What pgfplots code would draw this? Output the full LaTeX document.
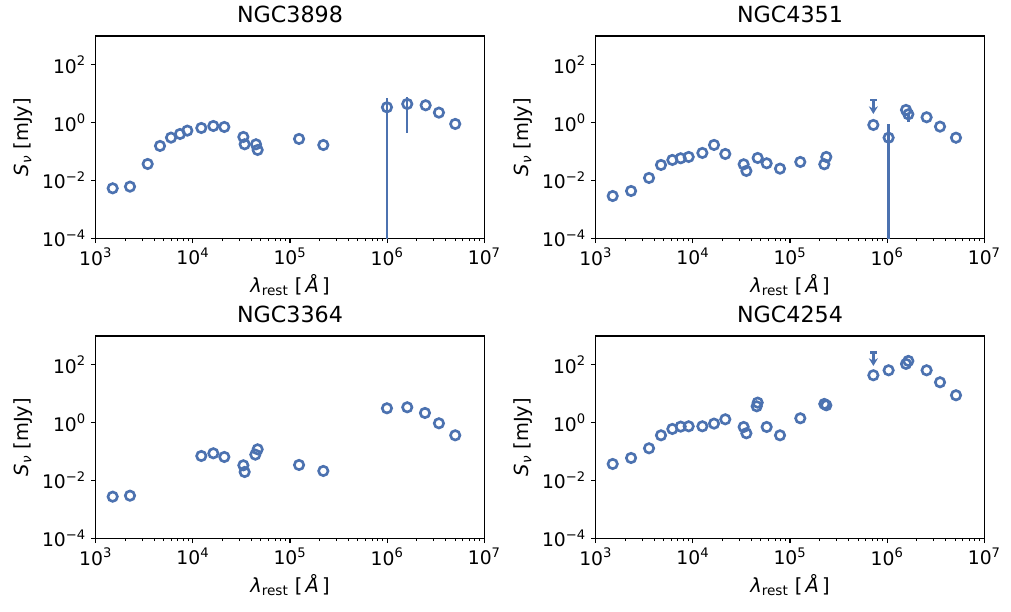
\documentclass[border=0pt]{standalone}
\usepackage{pgfplots}
\pgfplotsset{compat=1.18}
\usepackage{fontspec}
\setmainfont{DejaVu Sans}
\usetikzlibrary{arrows.meta}
\definecolor{sedblue}{HTML}{4C72B0}

\pgfplotsset{
  every axis/.append style={
    xmode=log, ymode=log, scale only axis,
    width=279.8pt, height=145.7pt,
    xmin=1e3, xmax=1e7, ymin=1e-4, ymax=1e3,
    xtick={1e3,1e4,1e5,1e6,1e7},
    xticklabels={10\textsuperscript{3},10\textsuperscript{4},10\textsuperscript{5},10\textsuperscript{6},10\textsuperscript{7}},
    ytick={1e-4,1e-2,1,1e2},
    yticklabels={10\textsuperscript{−4},10\textsuperscript{−2},10\textsuperscript{0},10\textsuperscript{2}},
    tick align=outside, tick pos=left,
    major tick length=3.5pt, minor tick length=2pt,
    tick style={black, line width=0.8pt},
    minor tick style={black, line width=0.6pt},
    axis line style={line width=0.8pt},
    tick label style={font=\fontsize{13.5}{15}\selectfont},
    label style={font=\fontsize{14}{16}\selectfont},
    title style={font=\fontsize{16}{19}\selectfont},
    xlabel={\textit{λ}\textsubscript{rest} [\,\textit{Å}\,]},
    ylabel={\textit{S}\textsubscript{\textit{ν}} [mJy]},
  },
}
\tikzset{
  sedpoints/.style={only marks, mark=o, mark size=3.4pt,
    mark options={line width=1.9pt, draw=sedblue, fill=white}},
  sedlimit/.style={sedblue, line width=1.7pt, -{Stealth[length=5.5pt,width=6.5pt]}},
  sedcap/.style={only marks, mark=-, mark size=2.4pt,
    mark options={line width=1.7pt, draw=sedblue}},
}

\begin{document}
\begin{tikzpicture}
\useasboundingbox (0,0) rectangle (727.92pt,-439.92pt);

% ---------------- NGC3898 ----------------
\begin{axis}[at={(68.90pt,-171.58pt)}, anchor=south west, title={NGC3898}]
\addplot[sedpoints] coordinates {
  (1496,0.00537) (2254,0.00614) (3428,0.0373) (4591,0.157) (5961,0.304)
  (7379,0.407) (8776,0.531) (12220,0.656) (16250,0.769) (21090,0.711)
  (33110,0.321) (34140,0.179) (44670,0.179) (46450,0.114)
  (123900,0.274) (220300,0.169)
  (2.49e6,4.0) (3.41e6,2.23) (5.02e6,0.904)
};
\addplot[sedpoints, error bars/.cd, y dir=both, y explicit, error mark=none,
  error bar style={line width=1.7pt, sedblue}] coordinates {
  (9.95e5,3.41) += (0,3.6) -= (0,3.409999)
  (1.61e6,4.45) += (0,3.5) -= (0,4.0)
};
\end{axis}

% ---------------- NGC4351 ----------------
\begin{axis}[at={(428.90pt,-171.58pt)}, anchor=south west, title={NGC4351}]
\addplot[sedpoints] coordinates {
  (1496,0.00291) (2312,0.00434) (3540,0.01225) (4700,0.0345) (6150,0.0514)
  (7495,0.0587) (9060,0.0653) (12530,0.0898) (16520,0.170) (21570,0.0828)
  (33340,0.0364) (35560,0.0214) (46450,0.0602) (57500,0.0394) (78900,0.0257)
  (127600,0.0438) (225400,0.0364) (236400,0.0653)
  (7.21e5,0.835) (1.563e6,2.76)
  (2.547e6,1.54) (3.50e6,0.731) (5.11e6,0.302)
};
\addplot[sedpoints, error bars/.cd, y dir=both, y explicit, error mark=none,
  error bar style={line width=1.7pt, sedblue}] coordinates {
  (1.035e6,0.302) += (0,0.60) -= (0,0.301999)
  (1.652e6,1.95) += (0,0.0) -= (0,0.9)
};
\addplot[sedlimit] coordinates {(7.21e5,6.12) (7.21e5,2.0)};
\addplot[sedcap] coordinates {(7.21e5,6.12)};
\end{axis}

% ---------------- NGC3364 ----------------
\begin{axis}[at={(68.90pt,-387.58pt)}, anchor=south west, title={NGC3364}]
\addplot[sedpoints] coordinates {
  (1496,0.00276) (2254,0.00299)
  (12220,0.0706) (16250,0.0873) (21090,0.0652)
  (33110,0.0336) (34140,0.0197) (43960,0.0785) (46450,0.120)
  (123900,0.0345) (220300,0.0214)
  (9.95e5,3.15) (1.61e6,3.41) (2.45e6,2.17) (3.41e6,0.953) (5.02e6,0.366)
};
\end{axis}

% ---------------- NGC4254 ----------------
\begin{axis}[at={(428.90pt,-387.58pt)}, anchor=south west, title={NGC4254}]
\addplot[sedpoints] coordinates {
  (1496,0.0373) (2312,0.0602) (3540,0.130) (4700,0.366) (6150,0.607)
  (7495,0.731) (9060,0.750) (12530,0.750) (16520,0.929) (21570,1.31)
  (33340,0.711) (35560,0.430) (45400,3.69) (46450,4.94) (57500,0.711)
  (78900,0.366) (127600,1.42) (225400,4.45) (236400,4.0)
  (7.21e5,43.7) (1.035e6,65.0) (1.563e6,108) (1.652e6,137)
  (2.547e6,65.0) (3.50e6,25.0) (5.11e6,8.89)
};
\addplot[sedlimit] coordinates {(7.21e5,266) (7.21e5,91.8)};
\addplot[sedcap] coordinates {(7.21e5,266)};
\end{axis}
\end{tikzpicture}
\end{document}
